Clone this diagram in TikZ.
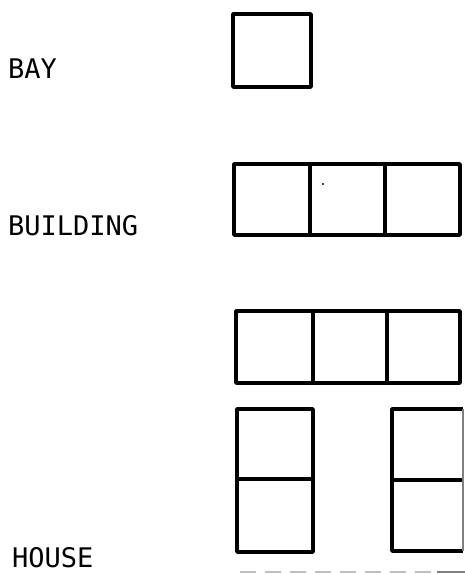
\documentclass[tikz,border=0pt]{standalone}
\usepackage{fontspec}
\setmonofont{DejaVu Sans Mono}
\usepackage{tikz}
\usetikzlibrary{positioning}

\begin{document}
\begin{tikzpicture}[x=1pt,y=-1pt]
        \tikzset{cell/.style={line width=3.5pt, line join=round},
                 lbl/.style={anchor=base west, inner sep=0pt, font=\fontsize{27}{30}\selectfont\ttfamily}}
        \useasboundingbox (0,0) rectangle (465,574);

        % Labels
        \node[lbl] (bay) at (8,78) {BAY};
        \node[lbl] (building) at (8,235) {BUILDING};
        \node[lbl] (house) at (12,567) {HOUSE};

        % Bay: one cell
        \draw[cell] (233,14) rectangle (311,87);

        % Building: three cells in a row
        \draw[cell] (234,164) rectangle (460,235);
        \foreach \x in {310,385} {
          \draw[cell] (\x,164) -- (\x,235);
        }
        \fill (323,184) circle (1.2pt);

        % House: a row on top of two columns
        \draw[cell] (236,311) rectangle (460,383);
        \foreach \x in {313,387} {
          \draw[cell] (\x,311) -- (\x,383);
        }
        \draw[cell] (237,409) rectangle (313,552);
        \draw[cell] (237,479) -- (313,479);
        \draw[cell] (463,409) -- (392,409) -- (392,551) -- (463,551);
        \draw[cell] (392,480) -- (463,480);
        \draw[line width=1.5pt, gray] (463,409) -- (463,551);

        % faint edge at the bottom
        \draw[gray!50, line width=1.5pt, dash pattern=on 16pt off 9pt] (240,572) -- (437,572);
        \draw[line width=2pt, gray] (437,572) -- (465,572);
\end{tikzpicture}
\end{document}
